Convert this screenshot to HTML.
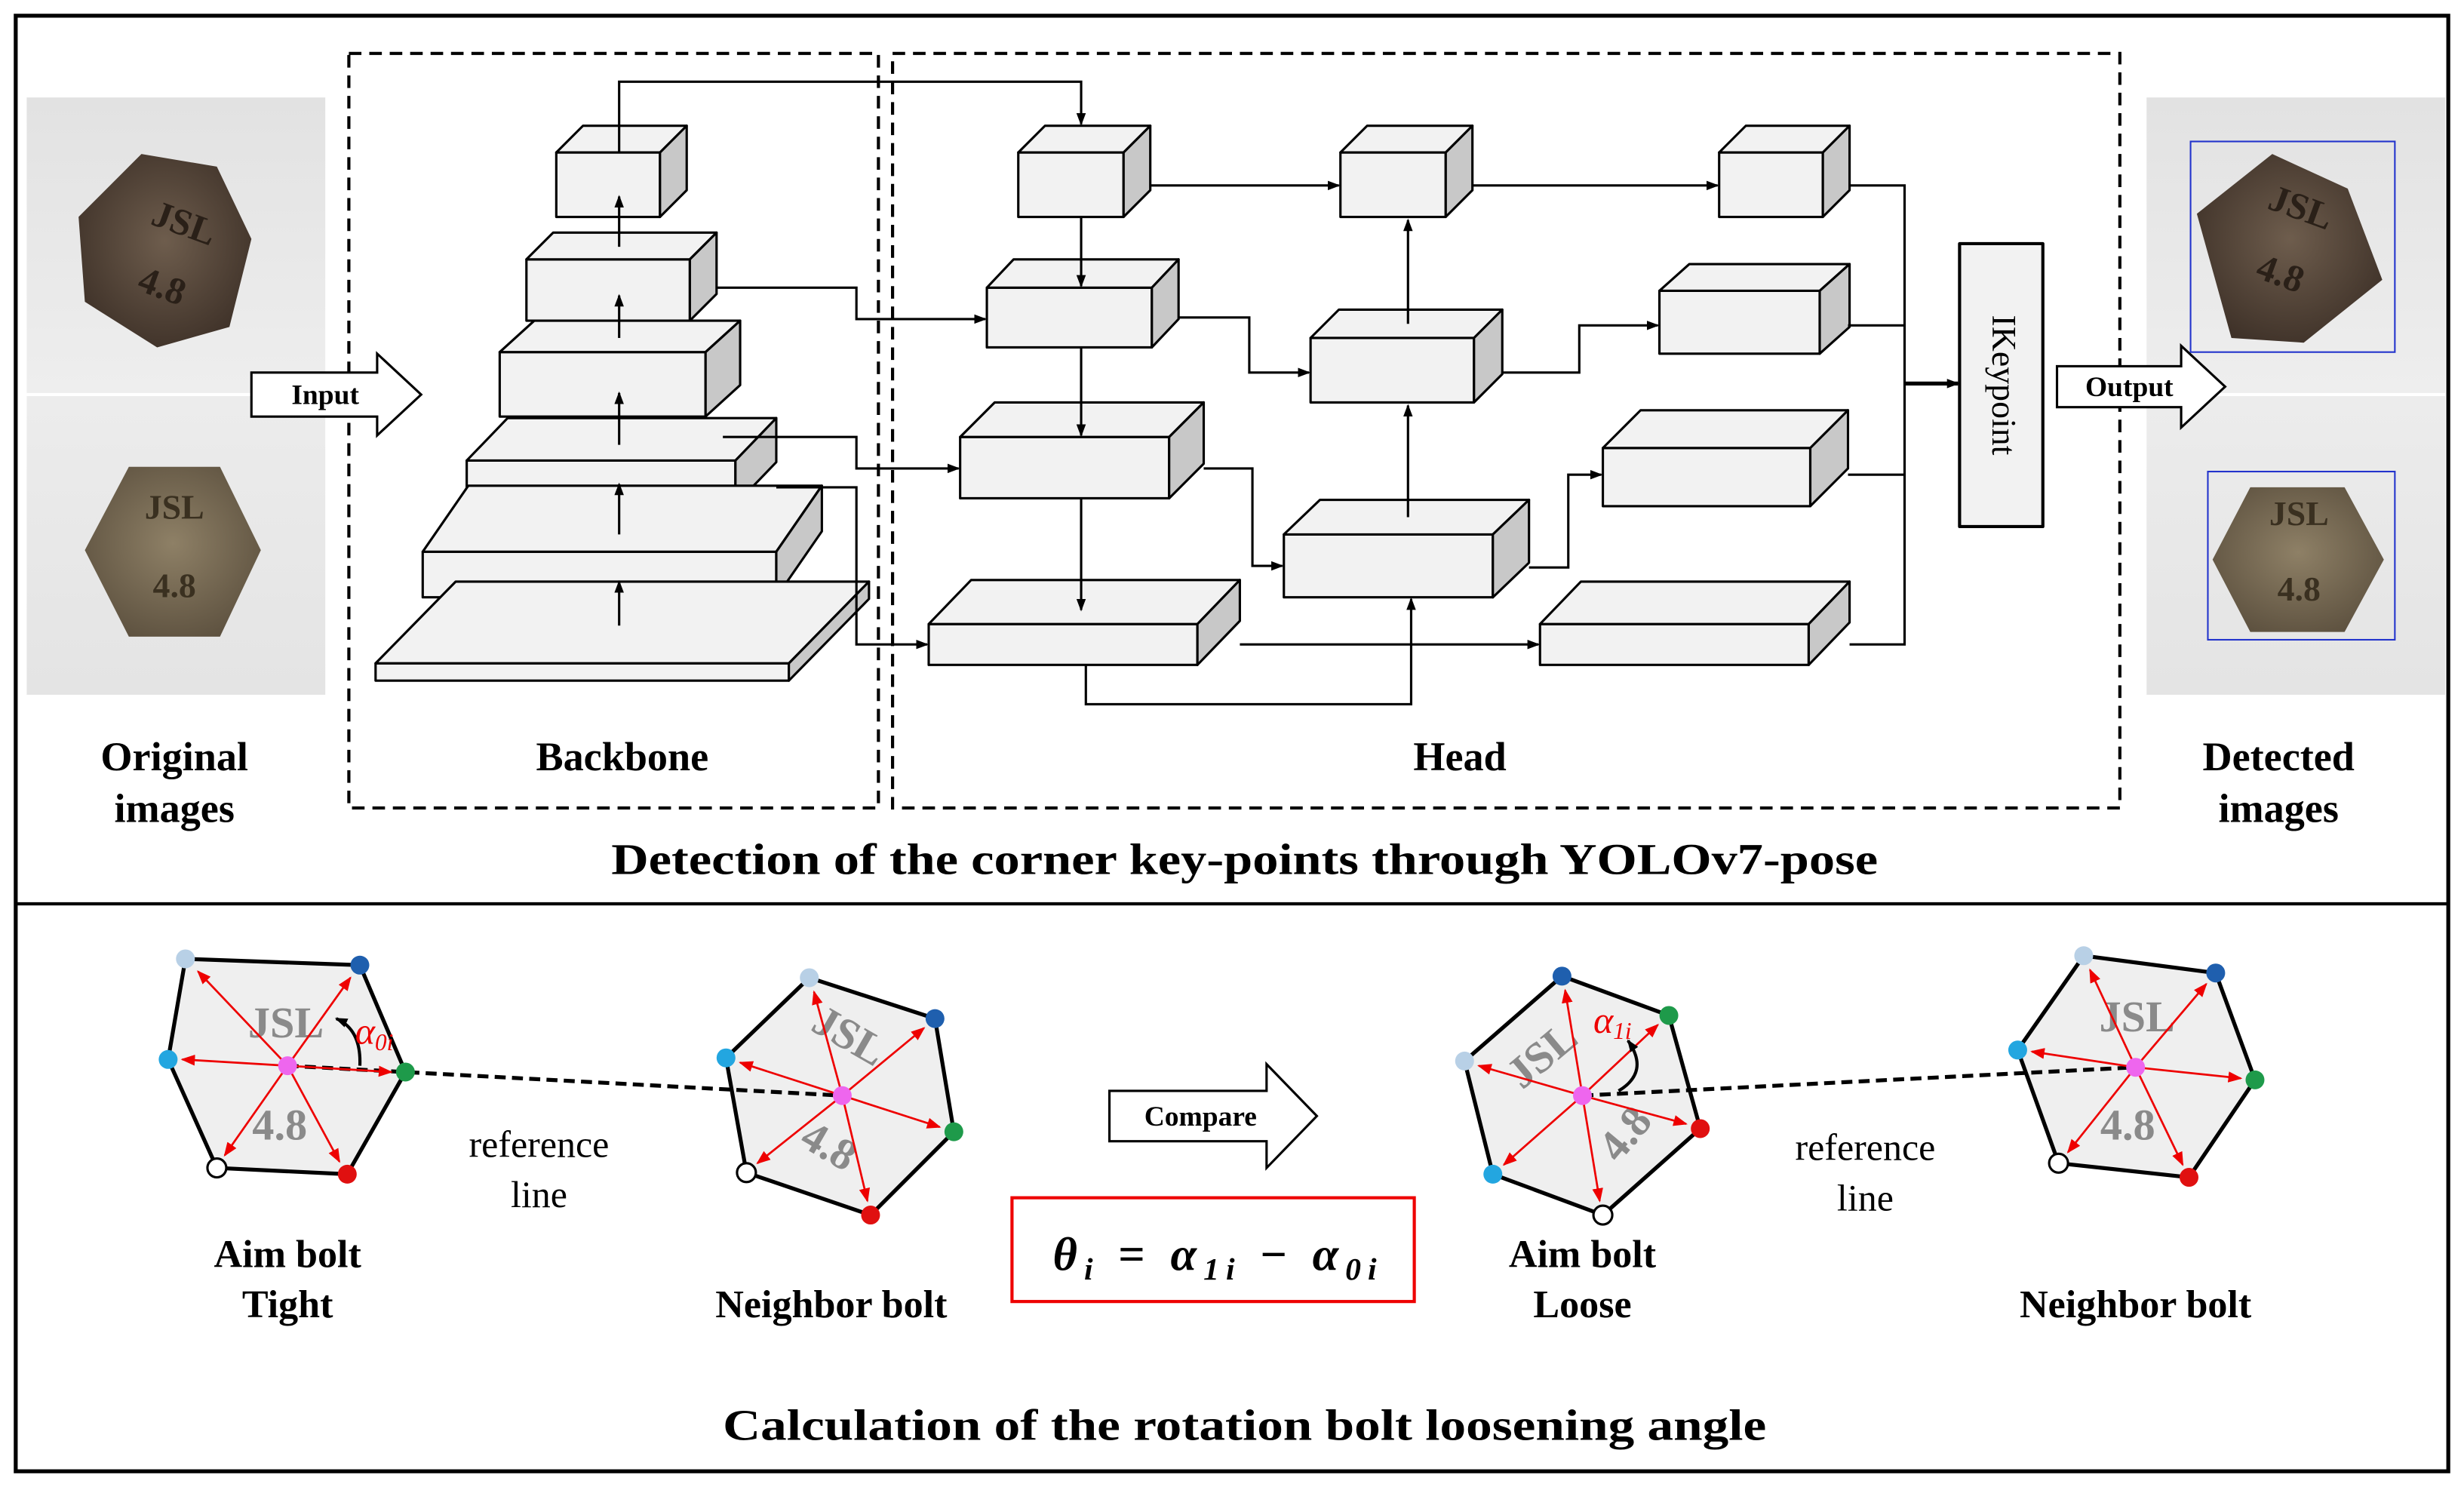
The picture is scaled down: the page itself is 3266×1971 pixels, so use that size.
<!DOCTYPE html>
<html><head><meta charset="utf-8"><style>
html,body{margin:0;padding:0;background:#fff}
svg{display:block}
text{font-family:"Liberation Serif",serif}
</style></head><body>
<svg width="3266" height="1971" viewBox="0 0 1568 946" preserveAspectRatio="none" xmlns="http://www.w3.org/2000/svg">
<defs>
<marker id="a" markerWidth="8" markerHeight="8" refX="7" refY="4" orient="auto" markerUnits="userSpaceOnUse"><path d="M0,1 L8,4 L0,7 Z" fill="#000"/></marker>
<marker id="r" markerWidth="9" markerHeight="8" refX="8" refY="4" orient="auto" markerUnits="userSpaceOnUse"><path d="M0,0.5 L9,4 L0,7.5 Z" fill="#e00"/></marker>
<radialGradient id="b1" cx="50%" cy="45%" r="60%"><stop offset="0" stop-color="#6e5d4d"/><stop offset="1" stop-color="#3e3128"/></radialGradient>
<radialGradient id="b2" cx="50%" cy="45%" r="60%"><stop offset="0" stop-color="#8e8066"/><stop offset="1" stop-color="#5e5240"/></radialGradient>
<linearGradient id="bg1" x1="0" y1="0" x2="0" y2="1"><stop offset="0" stop-color="#e2e2e2"/><stop offset="1" stop-color="#eeeeee"/></linearGradient>
<linearGradient id="bg2" x1="0" y1="0" x2="0" y2="1"><stop offset="0" stop-color="#ececec"/><stop offset="1" stop-color="#e4e4e4"/></linearGradient>
</defs>
<rect x="0" y="0" width="1568" height="946" fill="#fff"/>
<rect x="10" y="10" width="1548" height="926" fill="none" stroke="#000" stroke-width="2.5"/>
<line x1="10" y1="575" x2="1558" y2="575" stroke="#000" stroke-width="2"/>

<!-- original images -->
<rect x="17" y="62" width="190" height="188" fill="url(#bg1)"/>
<rect x="17" y="252" width="190" height="190" fill="url(#bg2)"/>
<polygon points="90,98 138,106 160,152 146,208 100,221 54,192 50,138" fill="url(#b1)"/>
<text x="118" y="150" font-size="24" font-weight="bold" fill="#2a2018" text-anchor="middle" transform="rotate(20 118 140)">JSL</text>
<text x="104" y="190" font-size="24" font-weight="bold" fill="#2a2018" text-anchor="middle" transform="rotate(20 104 180)">4.8</text>
<polygon points="82,297 140,297 166,350 140,405 82,405 54,350" fill="url(#b2)"/>
<text x="111" y="330" font-size="22" font-weight="bold" fill="#3a3020" text-anchor="middle">JSL</text>
<text x="111" y="380" font-size="22" font-weight="bold" fill="#3a3020" text-anchor="middle">4.8</text>

<!-- detected images -->
<rect x="1366" y="62" width="190" height="188" fill="url(#bg1)"/>
<rect x="1366" y="252" width="190" height="190" fill="url(#bg2)"/>
<polygon points="1446,98 1494,120 1516,178 1466,218 1420,215 1398,136" fill="url(#b1)"/>
<text x="1465" y="140" font-size="24" font-weight="bold" fill="#2a2018" text-anchor="middle" transform="rotate(20 1465 130)">JSL</text>
<text x="1452" y="182" font-size="24" font-weight="bold" fill="#2a2018" text-anchor="middle" transform="rotate(20 1452 172)">4.8</text>
<rect x="1394" y="90" width="130" height="134" fill="none" stroke="#2233cc" stroke-width="1"/>
<polygon points="1432,310 1492,310 1517,356 1492,402 1432,402 1408,356" fill="url(#b2)"/>
<text x="1463" y="334" font-size="22" font-weight="bold" fill="#3a3020" text-anchor="middle">JSL</text>
<text x="1463" y="382" font-size="22" font-weight="bold" fill="#3a3020" text-anchor="middle">4.8</text>
<rect x="1405" y="300" width="119" height="107" fill="none" stroke="#2233cc" stroke-width="1"/>

<!-- dashed boxes -->
<rect x="222" y="34" width="337" height="480" fill="none" stroke="#000" stroke-width="2" stroke-dasharray="8,5"/>
<rect x="568" y="34" width="781" height="480" fill="none" stroke="#000" stroke-width="2" stroke-dasharray="8,5"/>

<!-- input/output arrows -->
<polygon points="160,237 240,237 240,225 268,251 240,277 240,265 160,265" fill="#fff" stroke="#000" stroke-width="1.5"/>
<text x="207" y="257" font-size="18" font-weight="bold" text-anchor="middle">Input</text>
<polygon points="1309,233 1388,233 1388,220 1416,246 1388,272 1388,259 1309,259" fill="#fff" stroke="#000" stroke-width="1.5"/>
<text x="1355" y="252" font-size="18" font-weight="bold" text-anchor="middle">Output</text>

<g stroke="#000" stroke-width="1.5" stroke-linejoin="round">
<g>
<rect x="354" y="97" width="66" height="41" fill="#f2f2f2"/><polygon points="354,97 371,80 437,80 420,97" fill="#f2f2f2"/><polygon points="420,97 437,80 437,121 420,138" fill="#c8c8c8"/>
<rect x="335" y="165" width="104" height="39" fill="#f2f2f2"/><polygon points="335,165 352,148 456,148 439,165" fill="#f2f2f2"/><polygon points="439,165 456,148 456,187 439,204" fill="#c8c8c8"/>
<rect x="318" y="224" width="131" height="41" fill="#f2f2f2"/><polygon points="318,224 340,204 471,204 449,224" fill="#f2f2f2"/><polygon points="449,224 471,204 471,245 449,265" fill="#c8c8c8"/>
<rect x="297" y="293" width="171" height="28" fill="#f2f2f2"/><polygon points="297,293 323,266 494,266 468,293" fill="#f2f2f2"/><polygon points="468,293 494,266 494,294 468,321" fill="#c8c8c8"/>
<rect x="269" y="351" width="225" height="29" fill="#f2f2f2"/><polygon points="269,351 298,309 523,309 494,351" fill="#f2f2f2"/><polygon points="494,351 523,309 523,338 494,380" fill="#c8c8c8"/>
<rect x="239" y="422" width="263" height="11" fill="#f2f2f2"/><polygon points="239,422 290,370 553,370 502,422" fill="#f2f2f2"/><polygon points="502,422 553,370 553,381 502,433" fill="#c8c8c8"/>
</g>
<rect x="648" y="97" width="67" height="41" fill="#f2f2f2"/><polygon points="648,97 665,80 732,80 715,97" fill="#f2f2f2"/><polygon points="715,97 732,80 732,121 715,138" fill="#c8c8c8"/>
<rect x="628" y="183" width="105" height="38" fill="#f2f2f2"/><polygon points="628,183 645,165 750,165 733,183" fill="#f2f2f2"/><polygon points="733,183 750,165 750,203 733,221" fill="#c8c8c8"/>
<rect x="611" y="278" width="133" height="39" fill="#f2f2f2"/><polygon points="611,278 633,256 766,256 744,278" fill="#f2f2f2"/><polygon points="744,278 766,256 766,295 744,317" fill="#c8c8c8"/>
<rect x="591" y="397" width="171" height="26" fill="#f2f2f2"/><polygon points="591,397 618,369 789,369 762,397" fill="#f2f2f2"/><polygon points="762,397 789,369 789,395 762,423" fill="#c8c8c8"/>
<rect x="853" y="97" width="67" height="41" fill="#f2f2f2"/><polygon points="853,97 870,80 937,80 920,97" fill="#f2f2f2"/><polygon points="920,97 937,80 937,121 920,138" fill="#c8c8c8"/>
<rect x="834" y="215" width="104" height="41" fill="#f2f2f2"/><polygon points="834,215 852,197 956,197 938,215" fill="#f2f2f2"/><polygon points="938,215 956,197 956,238 938,256" fill="#c8c8c8"/>
<rect x="817" y="340" width="133" height="40" fill="#f2f2f2"/><polygon points="817,340 840,318 973,318 950,340" fill="#f2f2f2"/><polygon points="950,340 973,318 973,358 950,380" fill="#c8c8c8"/>
<rect x="1094" y="97" width="66" height="41" fill="#f2f2f2"/><polygon points="1094,97 1111,80 1177,80 1160,97" fill="#f2f2f2"/><polygon points="1160,97 1177,80 1177,121 1160,138" fill="#c8c8c8"/>
<rect x="1056" y="185" width="102" height="40" fill="#f2f2f2"/><polygon points="1056,185 1075,168 1177,168 1158,185" fill="#f2f2f2"/><polygon points="1158,185 1177,168 1177,208 1158,225" fill="#c8c8c8"/>
<rect x="1020" y="285" width="132" height="37" fill="#f2f2f2"/><polygon points="1020,285 1044,261 1176,261 1152,285" fill="#f2f2f2"/><polygon points="1152,285 1176,261 1176,298 1152,322" fill="#c8c8c8"/>
<rect x="980" y="397" width="171" height="26" fill="#f2f2f2"/><polygon points="980,397 1006,370 1177,370 1151,397" fill="#f2f2f2"/><polygon points="1151,397 1177,370 1177,396 1151,423" fill="#c8c8c8"/>
<rect x="1247" y="155" width="53" height="180" fill="#f2f2f2" stroke-width="2"/>
</g>
<text x="1273" y="245" font-size="22" text-anchor="middle" dominant-baseline="middle" transform="rotate(90 1273 245)">IKeypoint</text>

<g stroke="#000" stroke-width="1.5" fill="none">
<line x1="394" y1="398" x2="394" y2="370" marker-end="url(#a)"/>
<line x1="394" y1="340" x2="394" y2="308" marker-end="url(#a)"/>
<line x1="394" y1="283" x2="394" y2="250" marker-end="url(#a)"/>
<line x1="394" y1="215" x2="394" y2="188" marker-end="url(#a)"/>
<line x1="394" y1="157" x2="394" y2="125" marker-end="url(#a)"/>
<polyline points="394,97 394,52 688,52 688,79" marker-end="url(#a)"/>
<line x1="688" y1="138" x2="688" y2="182" marker-end="url(#a)"/>
<line x1="688" y1="221" x2="688" y2="277" marker-end="url(#a)"/>
<line x1="688" y1="317" x2="688" y2="388" marker-end="url(#a)"/>
<polyline points="456,183 545,183 545,203 627,203" marker-end="url(#a)"/>
<polyline points="460,278 545,278 545,298 610,298" marker-end="url(#a)"/>
<polyline points="494,310 545,310 545,410 590,410" marker-end="url(#a)"/>
<line x1="732" y1="118" x2="852" y2="118" marker-end="url(#a)"/>
<line x1="937" y1="118" x2="1093" y2="118" marker-end="url(#a)"/>
<polyline points="750,202 795,202 795,237 833,237" marker-end="url(#a)"/>
<line x1="896" y1="206" x2="896" y2="140" marker-end="url(#a)"/>
<polyline points="956,237 1005,237 1005,207 1055,207" marker-end="url(#a)"/>
<polyline points="766,298 797,298 797,360 816,360" marker-end="url(#a)"/>
<line x1="896" y1="329" x2="896" y2="258" marker-end="url(#a)"/>
<polyline points="973,361 998,361 998,302 1019,302" marker-end="url(#a)"/>
<line x1="789" y1="410" x2="979" y2="410" marker-end="url(#a)"/>
<polyline points="691,423 691,448 898,448 898,381" marker-end="url(#a)"/>
<polyline points="1177,118 1212,118 1212,410 1177,410"/>
<line x1="1176" y1="207" x2="1212" y2="207"/>
<line x1="1176" y1="302" x2="1212" y2="302"/>
<line x1="1212" y1="244" x2="1246" y2="244" stroke-width="2.5" marker-end="url(#a)"/>
</g>

<g font-weight="bold" font-size="26" text-anchor="middle">
<text x="111" y="490">Original</text><text x="111" y="523">images</text>
<text x="396" y="490">Backbone</text>
<text x="929" y="490">Head</text>
<text x="1450" y="490">Detected</text><text x="1450" y="523">images</text>
<text x="792" y="556" font-size="28" textLength="806" lengthAdjust="spacingAndGlyphs">Detection of the corner key-points through YOLOv7-pose</text>
<text x="792" y="916" font-size="28" textLength="664" lengthAdjust="spacingAndGlyphs">Calculation of the rotation bolt loosening angle</text>
<text x="183" y="806" font-size="25">Aim bolt</text><text x="183" y="838" font-size="25">Tight</text>
<text x="529" y="838" font-size="25">Neighbor bolt</text>
<text x="1007" y="806" font-size="25">Aim bolt</text><text x="1007" y="838" font-size="25">Loose</text>
<text x="1359" y="838" font-size="25">Neighbor bolt</text>
</g>
<g font-size="24" text-anchor="middle">
<text x="343" y="736">reference</text><text x="343" y="768">line</text>
<text x="1187" y="738">reference</text><text x="1187" y="770">line</text>
</g>

<polygon points="706,694 806,694 806,677 838,710 806,743 806,726 706,726" fill="#fff" stroke="#000" stroke-width="1.5"/>
<text x="764" y="716" font-size="18" font-weight="bold" text-anchor="middle">Compare</text>
<rect x="644" y="762" width="256" height="66" fill="#fff" stroke="#e00" stroke-width="2"/>
<text x="670" y="808" font-size="30" font-weight="bold" font-style="italic" textLength="206" lengthAdjust="spacing">θ<tspan font-size="20" dy="6">i</tspan><tspan dy="-6" font-style="normal"> = </tspan>α<tspan font-size="20" dy="6">1i</tspan><tspan dy="-6" font-style="normal"> − </tspan>α<tspan font-size="20" dy="6">0i</tspan></text>

<g stroke="#000" stroke-width="2.5" fill="#efefef" stroke-linejoin="round">
<polygon points="118,610 229,614 258,682 221,747 138,743 107,674"/>
<polygon points="515,622 595,648 607,720 554,773 475,746 462,673"/>
<polygon points="932,675 994,621 1062,646 1082,718 1020,773 950,747"/>
<polygon points="1326,608 1410,619 1435,687 1393,749 1310,740 1284,668"/>
</g>
<g font-size="28" font-weight="bold" fill="#8a8a8a" text-anchor="middle">
<text x="182" y="660">JSL</text><text x="178" y="725">4.8</text>
<text x="540" y="668" transform="rotate(30 540 660)">JSL</text><text x="527" y="738" transform="rotate(30 527 730)">4.8</text>
<text x="982" y="680" transform="rotate(-40 982 672)">JSL</text><text x="1035" y="730" transform="rotate(-50 1035 722)">4.8</text>
<text x="1360" y="656">JSL</text><text x="1354" y="725">4.8</text>
</g>
<line x1="183" y1="678" x2="536" y2="697" stroke="#000" stroke-width="2.5" stroke-dasharray="7,4"/>
<line x1="1007" y1="697" x2="1359" y2="679" stroke="#000" stroke-width="2.5" stroke-dasharray="7,4"/>
<g stroke="#e00" stroke-width="1.3" marker-end="url(#r)">
<line x1="183" y1="678" x2="126" y2="618"/><line x1="183" y1="678" x2="223" y2="622"/><line x1="183" y1="678" x2="249" y2="682"/><line x1="183" y1="678" x2="216" y2="739"/><line x1="183" y1="678" x2="143" y2="735"/><line x1="183" y1="678" x2="116" y2="674"/>
<line x1="536" y1="697" x2="518" y2="631"/><line x1="536" y1="697" x2="588" y2="654"/><line x1="536" y1="697" x2="598" y2="717"/><line x1="536" y1="697" x2="552" y2="764"/><line x1="536" y1="697" x2="482" y2="740"/><line x1="536" y1="697" x2="471" y2="676"/>
<line x1="1007" y1="697" x2="941" y2="678"/><line x1="1007" y1="697" x2="996" y2="630"/><line x1="1007" y1="697" x2="1055" y2="652"/><line x1="1007" y1="697" x2="1073" y2="715"/><line x1="1007" y1="697" x2="1018" y2="764"/><line x1="1007" y1="697" x2="957" y2="741"/>
<line x1="1359" y1="679" x2="1330" y2="617"/><line x1="1359" y1="679" x2="1404" y2="626"/><line x1="1359" y1="679" x2="1426" y2="686"/><line x1="1359" y1="679" x2="1389" y2="741"/><line x1="1359" y1="679" x2="1316" y2="733"/><line x1="1359" y1="679" x2="1293" y2="669"/>
</g>
<path d="M229,678 Q230,655 214,648" fill="none" stroke="#000" stroke-width="2" marker-end="url(#a)"/>
<text x="226" y="664" font-size="24" font-style="italic" fill="#e00">α<tspan font-size="15" dy="4">0i</tspan></text>
<path d="M1030,694 Q1050,682 1036,662" fill="none" stroke="#000" stroke-width="2" marker-end="url(#a)"/>
<text x="1014" y="657" font-size="24" font-style="italic" fill="#e00">α<tspan font-size="15" dy="4">1i</tspan></text>
<g stroke="none">
<circle cx="118" cy="610" r="6" fill="#b8d0e6"/><circle cx="229" cy="614" r="6" fill="#1f5fae"/><circle cx="258" cy="682" r="6" fill="#1e9a4a"/><circle cx="221" cy="747" r="6" fill="#e01010"/><circle cx="138" cy="743" r="6" fill="#fff" stroke="#000" stroke-width="1.5"/><circle cx="107" cy="674" r="6" fill="#23a6e0"/><circle cx="183" cy="678" r="6" fill="#ee66ee"/>
<circle cx="515" cy="622" r="6" fill="#b8d0e6"/><circle cx="595" cy="648" r="6" fill="#1f5fae"/><circle cx="607" cy="720" r="6" fill="#1e9a4a"/><circle cx="554" cy="773" r="6" fill="#e01010"/><circle cx="475" cy="746" r="6" fill="#fff" stroke="#000" stroke-width="1.5"/><circle cx="462" cy="673" r="6" fill="#23a6e0"/><circle cx="536" cy="697" r="6" fill="#ee66ee"/>
<circle cx="932" cy="675" r="6" fill="#b8d0e6"/><circle cx="994" cy="621" r="6" fill="#1f5fae"/><circle cx="1062" cy="646" r="6" fill="#1e9a4a"/><circle cx="1082" cy="718" r="6" fill="#e01010"/><circle cx="1020" cy="773" r="6" fill="#fff" stroke="#000" stroke-width="1.5"/><circle cx="950" cy="747" r="6" fill="#23a6e0"/><circle cx="1007" cy="697" r="6" fill="#ee66ee"/>
<circle cx="1326" cy="608" r="6" fill="#b8d0e6"/><circle cx="1410" cy="619" r="6" fill="#1f5fae"/><circle cx="1435" cy="687" r="6" fill="#1e9a4a"/><circle cx="1393" cy="749" r="6" fill="#e01010"/><circle cx="1310" cy="740" r="6" fill="#fff" stroke="#000" stroke-width="1.5"/><circle cx="1284" cy="668" r="6" fill="#23a6e0"/><circle cx="1359" cy="679" r="6" fill="#ee66ee"/>
</g>
</svg>
</body></html>
